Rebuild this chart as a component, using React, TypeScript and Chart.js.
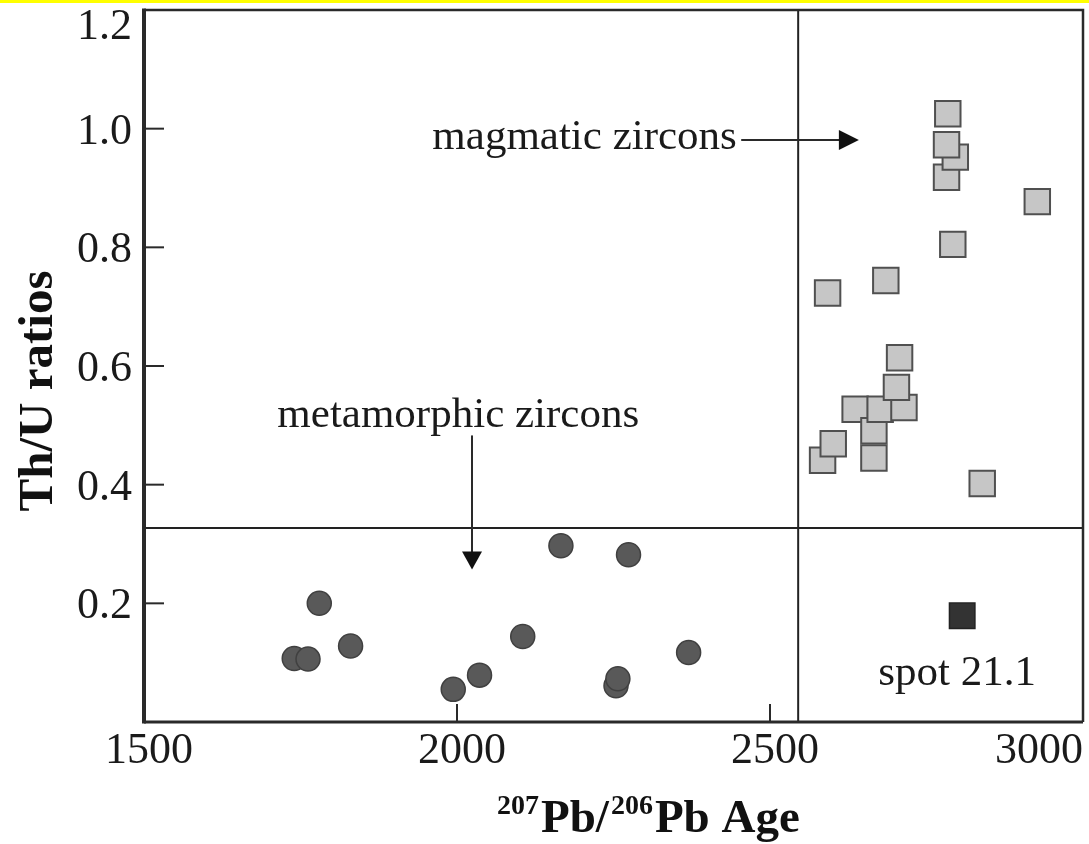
import React, { useEffect, useRef } from "react";
import { Chart, registerables } from "chart.js";

Chart.register(...registerables);

// Axis ranges and tick labels
const X_MIN = 1500;
const X_MAX = 3000;
const Y_MIN = 0;
const Y_MAX = 1.2;
const xTickValues = [1500, 2000, 2500, 3000];
const xTickLabels = ["1500", "2000", "2500", "3000"];
const yTickValues = [0.2, 0.4, 0.6, 0.8, 1.0, 1.2];
const yTickLabels = ["0.2", "0.4", "0.6", "0.8", "1.0", "1.2"];

// Metamorphic zircons (circles): 207Pb/206Pb age and Th/U
const metamorphicAge = [1740, 1762, 1780, 1830, 1994, 2036, 2105, 2166, 2274, 2254, 2257, 2370];
const metamorphicThU = [0.107, 0.106, 0.2, 0.128, 0.055, 0.079, 0.144, 0.297, 0.282, 0.061, 0.073, 0.117];

// Magmatic zircons (light squares)
const magmaticAge = [2584, 2601, 2592, 2636, 2666, 2666, 2676, 2714, 2702, 2707, 2685, 2839, 2792, 2927, 2782, 2796, 2782, 2784];
const magmaticThU = [0.441, 0.469, 0.723, 0.527, 0.445, 0.491, 0.527, 0.53, 0.564, 0.614, 0.744, 0.402, 0.805, 0.877, 0.918, 0.952, 0.973, 1.025];

// Spot 21.1 (dark square)
const spotAge = [2807];
const spotThU = [0.179];

// Field boundaries
const ageDivide = 2545;
const ratioDivide = 0.327;

// Annotation anchors (data units)
const magmaticLabelPos = { x: 2447, y: 0.966 };
const magmaticArrow = { x0: 2454, x1: 2642, y: 0.981 };
const metamorphicLabelPos = { x: 2002, y: 0.498 };
const metamorphicArrow = { x: 2024, y0: 0.483, y1: 0.257 };
const spotLabelPos = { x: 2799, y: 0.062 };

const SERIF = '"Liberation Serif", "Times New Roman", serif';

const toPoints = (xs: number[], ys: number[]) => xs.map((x, i) => ({ x, y: ys[i] }));

const frameAndText = {
  id: "frameAndText",
  beforeDraw(chart: any) {
    const { ctx, width, height } = chart;
    ctx.save();
    ctx.fillStyle = "#ffffff";
    ctx.fillRect(0, 0, width, height);
    ctx.fillStyle = "#ffff00";
    ctx.fillRect(0, 0, width, 3);
    ctx.restore();
  },
  afterDatasetsDraw(chart: any) {
    const { ctx, chartArea, scales } = chart;
    const { left, right, top, bottom } = chartArea;
    const xs = scales.x;
    const ys = scales.y;
    ctx.save();
    ctx.strokeStyle = "#2a2a2a";
    ctx.lineCap = "butt";

    // frame
    ctx.lineWidth = 2.5;
    ctx.beginPath();
    ctx.moveTo(left, top);
    ctx.lineTo(right, top);
    ctx.lineTo(right, bottom);
    ctx.stroke();
    ctx.lineWidth = 3;
    ctx.beginPath();
    ctx.moveTo(right, bottom);
    ctx.lineTo(left, bottom);
    ctx.stroke();
    ctx.lineWidth = 4;
    ctx.beginPath();
    ctx.moveTo(left, top - 1.5);
    ctx.lineTo(left, bottom + 1.5);
    ctx.stroke();

    // inward ticks
    ctx.lineWidth = 2;
    yTickValues.forEach((v) => {
      if (v <= Y_MIN || v >= Y_MAX) return;
      const py = ys.getPixelForValue(v);
      ctx.beginPath();
      ctx.moveTo(left, py);
      ctx.lineTo(left + 20, py);
      ctx.stroke();
    });
    xTickValues.forEach((v) => {
      if (v <= X_MIN || v >= X_MAX) return;
      const px = xs.getPixelForValue(v);
      ctx.beginPath();
      ctx.moveTo(px, bottom);
      ctx.lineTo(px, bottom - 18);
      ctx.stroke();
    });

    // tick labels
    ctx.fillStyle = "#1a1a1a";
    ctx.font = `44px ${SERIF}`;
    ctx.textBaseline = "alphabetic";
    ctx.textAlign = "right";
    yTickValues.forEach((v, i) => {
      const py = Math.max(ys.getPixelForValue(v), top + 14);
      ctx.fillText(yTickLabels[i], left - 12, py + 15);
    });
    ctx.textAlign = "center";
    xTickValues.forEach((v, i) => {
      const w = ctx.measureText(xTickLabels[i]).width;
      let cx = xs.getPixelForValue(v) + 5;
      cx = Math.min(cx, chart.width - 6 - w / 2);
      ctx.fillText(xTickLabels[i], cx, bottom + 41);
    });

    // annotations
    ctx.font = `43px ${SERIF}`;
    ctx.textAlign = "right";
    ctx.fillText("magmatic zircons", xs.getPixelForValue(magmaticLabelPos.x), ys.getPixelForValue(magmaticLabelPos.y));
    ctx.textAlign = "center";
    ctx.fillText("metamorphic zircons", xs.getPixelForValue(metamorphicLabelPos.x), ys.getPixelForValue(metamorphicLabelPos.y));
    ctx.fillText("spot 21.1", xs.getPixelForValue(spotLabelPos.x), ys.getPixelForValue(spotLabelPos.y));

    // horizontal arrow
    ctx.lineWidth = 2;
    const ay = ys.getPixelForValue(magmaticArrow.y);
    const ax0 = xs.getPixelForValue(magmaticArrow.x0);
    const ax1 = xs.getPixelForValue(magmaticArrow.x1);
    ctx.beginPath();
    ctx.moveTo(ax0, ay);
    ctx.lineTo(ax1 - 18, ay);
    ctx.stroke();
    ctx.fillStyle = "#111";
    ctx.beginPath();
    ctx.moveTo(ax1, ay);
    ctx.lineTo(ax1 - 20, ay - 10);
    ctx.lineTo(ax1 - 20, ay + 10);
    ctx.closePath();
    ctx.fill();

    // vertical arrow
    const bx = xs.getPixelForValue(metamorphicArrow.x);
    const by0 = ys.getPixelForValue(metamorphicArrow.y0);
    const by1 = ys.getPixelForValue(metamorphicArrow.y1);
    ctx.beginPath();
    ctx.moveTo(bx, by0);
    ctx.lineTo(bx, by1 - 16);
    ctx.stroke();
    ctx.beginPath();
    ctx.moveTo(bx, by1);
    ctx.lineTo(bx - 10, by1 - 18);
    ctx.lineTo(bx + 10, by1 - 18);
    ctx.closePath();
    ctx.fill();

    // y axis title
    ctx.fillStyle = "#111";
    ctx.font = `bold 49px ${SERIF}`;
    ctx.textAlign = "center";
    ctx.save();
    ctx.translate(52, (top + bottom) / 2 + 25);
    ctx.rotate(-Math.PI / 2);
    ctx.fillText("Th/U ratios", 0, 0);
    ctx.restore();

    // x axis title with superscript mass numbers
    const big = `bold 47px ${SERIF}`;
    const small = `bold 28px ${SERIF}`;
    const parts: [string, boolean][] = [["207", true], ["Pb/", false], ["206", true], ["Pb Age", false]];
    const gap = 2;
    let tx = 497;
    const base = bottom + 110;
    ctx.textAlign = "left";
    parts.forEach(([t, sup]) => {
      ctx.font = sup ? small : big;
      ctx.fillText(t, tx, sup ? base - 18 : base);
      tx += ctx.measureText(t).width + gap;
    });

    ctx.restore();
  },
};

export default function App() {
  const canvasRef = useRef<HTMLCanvasElement>(null);

  useEffect(() => {
    const canvas = canvasRef.current;
    if (!canvas) return;
    const chart = new Chart(canvas, {
      type: "scatter",
      data: {
        datasets: [
          {
            label: "spot 21.1",
            data: toPoints(spotAge, spotThU),
            pointStyle: "rect",
            pointRadius: 18,
            backgroundColor: "#333333",
            borderColor: "#222222",
            borderWidth: 1.5,
            order: 0,
          },
          {
            label: "magmatic zircons",
            data: toPoints(magmaticAge, magmaticThU),
            pointStyle: "rect",
            pointRadius: 18,
            backgroundColor: "#c6c6c6",
            borderColor: "#505050",
            borderWidth: 2,
            order: 1,
          },
          {
            label: "metamorphic zircons",
            data: toPoints(metamorphicAge, metamorphicThU),
            pointStyle: "circle",
            pointRadius: 12,
            backgroundColor: "#595959",
            borderColor: "#404040",
            borderWidth: 1.5,
            order: 2,
          },
          {
            label: "age boundary",
            data: [{ x: ageDivide, y: Y_MIN }, { x: ageDivide, y: Y_MAX }],
            showLine: true,
            pointRadius: 0,
            borderColor: "#222222",
            borderWidth: 2,
            order: 3,
          },
          {
            label: "Th/U boundary",
            data: [{ x: X_MIN, y: ratioDivide }, { x: X_MAX, y: ratioDivide }],
            showLine: true,
            pointRadius: 0,
            borderColor: "#222222",
            borderWidth: 2,
            order: 3,
          },
        ],
      },
      options: {
        animation: false,
        responsive: false,
        devicePixelRatio: 1,
        layout: { autoPadding: false, padding: { left: 144, right: 6, top: 10, bottom: 122 } },
        plugins: { legend: { display: false }, tooltip: { enabled: false } },
        scales: {
          x: { type: "linear", min: X_MIN, max: X_MAX, display: false },
          y: { type: "linear", min: Y_MIN, max: Y_MAX, display: false },
        },
      },
      plugins: [frameAndText],
    });
    return () => chart.destroy();
  }, []);

  return (
    <div style={{ position: "absolute", left: 0, top: 0, width: 1089, height: 844, background: "#fff" }}>
      <canvas ref={canvasRef} width={1089} height={844} style={{ display: "block" }} />
    </div>
  );
}
